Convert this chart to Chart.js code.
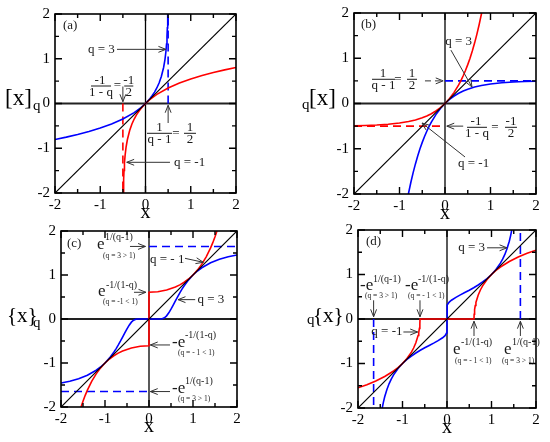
<!DOCTYPE html>
<html><head><meta charset="utf-8">
<script src="https://cdn.jsdelivr.net/npm/chart.js@4.4.1/dist/chart.umd.min.js"></script>
<style>
html,body{margin:0;padding:0;background:#fff;}
#wrap{position:relative;width:550px;height:442px;overflow:hidden;background:#fff;}
canvas{position:absolute;left:0;top:0;}
</style></head><body>
<div id="wrap">
<canvas id="pa" width="550" height="442" style="width:550px;height:442px"></canvas>
<canvas id="pb" width="550" height="442" style="width:550px;height:442px"></canvas>
<canvas id="pc" width="550" height="442" style="width:550px;height:442px"></canvas>
<canvas id="pd" width="550" height="442" style="width:550px;height:442px"></canvas>
</div>
<script>
// ---------- data ----------
const TICK_VALUES = [-2, -1, 0, 1, 2];
const MINOR_VALUES = [-1.5, -0.5, 0.5, 1.5];
const DIAG_X = [-2, 2];
const DIAG_Y = [-2, 2];

// (a) [x]_q
const A_BLUE_X = [-2,-1.75,-1.5,-1.25,-1,-0.75,-0.5,-0.25,-0.1,0,0.1,0.15,0.2,0.25,0.3,0.35,0.4,0.43,0.45,0.465,0.475,0.483,0.4908];
const A_BLUE_Y = [-0.805,-0.752,-0.693,-0.626,-0.549,-0.458,-0.347,-0.203,-0.091,0,0.112,0.178,0.255,0.347,0.458,0.602,0.805,0.983,1.151,1.330,1.498,1.691,2.0];
const A_RED_X = [-0.4908,-0.483,-0.475,-0.465,-0.45,-0.43,-0.4,-0.35,-0.3,-0.25,-0.2,-0.15,-0.1,0,0.1,0.25,0.5,0.75,1,1.25,1.5,1.75,2];
const A_RED_Y = [-2,-1.691,-1.498,-1.330,-1.151,-0.983,-0.805,-0.602,-0.458,-0.347,-0.255,-0.178,-0.112,0,0.091,0.203,0.347,0.458,0.549,0.626,0.693,0.752,0.805];
const A_BLUE_DASH_X = [0.5, 0.5], A_BLUE_DASH_Y = [0, 2];
const A_RED_DASH_X = [-0.5, -0.5], A_RED_DASH_Y = [0, -2];

// (b) q[x]
const B_BLUE_X = [-0.805,-0.75,-0.7,-0.65,-0.6,-0.55,-0.5,-0.45,-0.4,-0.35,-0.3,-0.2,-0.1,0,0.1,0.2,0.3,0.4,0.5,0.65,0.8,1,1.25,1.5,1.75,2];
const B_BLUE_Y = [-2,-1.741,-1.528,-1.335,-1.160,-1.002,-0.859,-0.730,-0.613,-0.507,-0.411,-0.246,-0.111,0,0.091,0.165,0.226,0.275,0.316,0.364,0.399,0.432,0.459,0.475,0.485,0.491];
const B_RED_X = [-2,-1.75,-1.5,-1.25,-1,-0.8,-0.65,-0.5,-0.4,-0.3,-0.2,-0.1,0,0.1,0.2,0.3,0.35,0.4,0.45,0.5,0.55,0.6,0.65,0.7,0.75,0.805];
const B_RED_Y = [-0.491,-0.485,-0.475,-0.459,-0.432,-0.399,-0.364,-0.316,-0.275,-0.226,-0.165,-0.091,0,0.111,0.246,0.411,0.507,0.613,0.730,0.859,1.002,1.160,1.335,1.528,1.741,2];
const B_BLUE_DASH_X = [0, 2], B_BLUE_DASH_Y = [0.5, 0.5];
const B_RED_DASH_X = [-2, 0], B_RED_DASH_Y = [-0.5, -0.5];

// (c) {x}_q
const C_BLUE_X = [-2,-1.8,-1.6,-1.4,-1.2,-1.1,-1,-0.9,-0.8,-0.75,-0.7,-0.65,-0.6,-0.55,-0.5,-0.45,-0.4,-0.35,-0.3,-0.25,-0.2,0,0.2,0.25,0.3,0.35,0.4,0.45,0.5,0.55,0.6,0.65,0.7,0.75,0.8,0.9,1,1.1,1.2,1.4,1.6,1.8,2];
const C_BLUE_Y = [-1.455,-1.413,-1.356,-1.278,-1.165,-1.091,-1,-0.889,-0.755,-0.678,-0.594,-0.505,-0.411,-0.316,-0.223,-0.140,-0.072,-0.028,-0.006,-0.001,0,0,0,0.001,0.006,0.028,0.072,0.140,0.223,0.316,0.411,0.505,0.594,0.678,0.755,0.889,1,1.091,1.165,1.278,1.356,1.413,1.455];
const C_RED_X = [-1.545,-1.5,-1.45,-1.4,-1.3,-1.2,-1.1,-1,-0.9,-0.8,-0.7,-0.6,-0.4,-0.2,0,0,0.2,0.4,0.6,0.7,0.8,0.9,1,1.1,1.2,1.3,1.4,1.45,1.5,1.545];
const C_RED_Y = [-2,-1.868,-1.735,-1.616,-1.412,-1.246,-1.111,-1,-0.909,-0.835,-0.775,-0.726,-0.657,-0.619,-0.607,0.607,0.619,0.657,0.726,0.775,0.835,0.909,1,1.111,1.246,1.412,1.616,1.735,1.868,2];
const C_BLUE_DASH_TOP_X = [0, 2], C_BLUE_DASH_TOP_Y = [1.649, 1.649];
const C_BLUE_DASH_BOT_X = [-2, 0], C_BLUE_DASH_BOT_Y = [-1.649, -1.649];

// (d) q{x}
const D_BLUE_X = [-1.455,-1.43,-1.4,-1.35,-1.3,-1.25,-1.2,-1.1,-1,-0.9,-0.8,-0.7,-0.6,-0.5,-0.4,-0.3,-0.2,-0.1,-0.05,-0.03,-0.01,-0.001,-0.0001,0,0.0001,0.001,0.01,0.03,0.05,0.1,0.2,0.3,0.4,0.5,0.6,0.7,0.8,0.9,1,1.1,1.2,1.25,1.3,1.35,1.4,1.43,1.455];
const D_BLUE_Y = [-2,-1.874,-1.749,-1.582,-1.451,-1.344,-1.255,-1.112,-1,-0.909,-0.832,-0.764,-0.703,-0.647,-0.594,-0.542,-0.487,-0.422,-0.378,-0.353,-0.313,-0.26,-0.227,0,0.227,0.26,0.313,0.353,0.378,0.422,0.487,0.542,0.594,0.647,0.703,0.764,0.832,0.909,1,1.112,1.255,1.344,1.451,1.582,1.749,1.874,2];
const D_RED_X = [-2,-1.8,-1.6,-1.4,-1.2,-1.1,-1,-0.9,-0.8,-0.75,-0.7,-0.65,-0.635,-0.62,-0.61,-0.6065,0.6065,0.61,0.62,0.635,0.65,0.7,0.75,0.8,0.9,1,1.1,1.2,1.4,1.6,1.8,2];
const D_RED_Y = [-1.545,-1.475,-1.393,-1.293,-1.168,-1.091,-1,-0.888,-0.744,-0.652,-0.535,-0.372,-0.303,-0.21,-0.107,0,0,0.107,0.21,0.303,0.372,0.535,0.652,0.744,0.888,1,1.091,1.168,1.293,1.393,1.475,1.545];
const D_BLUE_DASH_R_X = [1.649, 1.649], D_BLUE_DASH_R_Y = [0, 2];
const D_BLUE_DASH_L_X = [-1.649, -1.649], D_BLUE_DASH_L_Y = [0, -2];

// ---------- styling / layout ----------
const FONT = "'Liberation Serif','Times New Roman',serif";
const RED = '#ff0000', BLUE = '#0000ff', BLACK = '#000000';
const TXT = '#1a1a1a', ARR = '#333333';

const PANELS = {
  pa: { box:{L:55,R:236,T:14,B:193},
    ytitle:[{s:'[x]',dx:-50,dy:1,size:23},{s:'q',dx:-22,dy:6,size:15}],
    ann:[
      {t:'text',x:-1.823,y:1.665,s:'(a)'},
      {t:'text',x:-0.68,y:1.21,s:'q = 3',align:'right',base:'middle'},
      {t:'arrow',x1:-0.63,y1:1.21,x2:0.45,y2:1.21},
      {t:'text',x:-1.006,y:0.436,s:'-1',align:'center'},
      {t:'line',x1:-1.204,y1:0.391,x2:-0.762,y2:0.391},
      {t:'text',x:-0.983,y:0.168,s:'1 - q',align:'center'},
      {t:'text',x:-0.62,y:0.391,s:'=',align:'center',base:'middle'},
      {t:'text',x:-0.37,y:0.436,s:'-1',align:'center'},
      {t:'line',x1:-0.47,y1:0.391,x2:-0.27,y2:0.391},
      {t:'text',x:-0.37,y:0.168,s:'2',align:'center'},
      {t:'arrow',x1:-0.5,y1:0.38,x2:-0.5,y2:0.04},
      {t:'text',x:0.309,y:-0.614,s:'1',align:'center'},
      {t:'line',x1:0.033,y1:-0.666,x2:0.586,y2:-0.666},
      {t:'text',x:0.309,y:-0.883,s:'q - 1',align:'center'},
      {t:'text',x:0.674,y:-0.666,s:'=',align:'center',base:'middle'},
      {t:'text',x:0.983,y:-0.614,s:'1',align:'center'},
      {t:'line',x1:0.851,y1:-0.666,x2:1.116,y2:-0.666},
      {t:'text',x:0.983,y:-0.883,s:'2',align:'center'},
      {t:'arrow',x1:0.5,y1:-0.436,x2:0.5,y2:-0.04},
      {t:'text',x:0.63,y:-1.314,s:'q = -1',align:'left',base:'middle'},
      {t:'arrow',x1:0.541,y1:-1.314,x2:-0.415,y2:-1.314}
    ]},
  pb: { box:{L:354,R:536,T:13,B:194},
    ytitle:[{s:'q',dx:-52,dy:5,size:15},{s:'[x]',dx:-45,dy:1,size:23}],
    ann:[
      {t:'text',x:-1.846,y:1.669,s:'(b)'},
      {t:'text',x:0.30,y:1.30,s:'q = 3',align:'center'},
      {t:'arrow',x1:0.13,y1:1.18,x2:0.593,y2:0.365},
      {t:'text',x:-1.363,y:0.575,s:'1',align:'center'},
      {t:'line',x1:-1.604,y1:0.535,x2:-1.099,y2:0.535},
      {t:'text',x:-1.351,y:0.320,s:'q - 1',align:'center'},
      {t:'text',x:-1.033,y:0.535,s:'=',align:'center',base:'middle'},
      {t:'text',x:-0.725,y:0.575,s:'1',align:'center'},
      {t:'line',x1:-0.835,y1:0.535,x2:-0.615,y2:0.535},
      {t:'text',x:-0.725,y:0.320,s:'2',align:'center'},
      {t:'arrow',x1:-0.44,y1:0.5,x2:-0.04,y2:0.5,dash:[6,4]},
      {t:'text',x:0.681,y:-0.475,s:'-1',align:'center'},
      {t:'line',x1:0.484,y1:-0.526,x2:0.923,y2:-0.526},
      {t:'text',x:0.703,y:-0.740,s:'1 - q',align:'center'},
      {t:'text',x:1.099,y:-0.526,s:'=',align:'center',base:'middle'},
      {t:'text',x:1.451,y:-0.475,s:'-1',align:'center'},
      {t:'line',x1:1.319,y1:-0.526,x2:1.582,y2:-0.526},
      {t:'text',x:1.451,y:-0.740,s:'2',align:'center'},
      {t:'arrow',x1:0.40,y1:-0.5,x2:0.04,y2:-0.5},
      {t:'text',x:0.286,y:-1.403,s:'q = -1',align:'left'},
      {t:'arrow',x1:0.44,y1:-1.182,x2:-0.505,y2:-0.431}
    ]},
  pc: { box:{L:61,R:237,T:231,B:407},
    ytitle:[{s:'{x}',dx:-54,dy:3,size:21},{s:'q',dx:-28,dy:8,size:15}],
    ann:[
      {t:'text',x:-1.864,y:1.636,s:'(c)'},
      {t:'text',x:-1.182,y:1.591,s:'e',size:17},
      {t:'text',x:-1.0,y:1.795,s:'1/(q-1)',size:10},
      {t:'text',x:-1.045,y:1.386,s:'(q = 3 > 1)',size:7.5},
      {t:'arrow',x1:-0.432,y1:1.649,x2:-0.08,y2:1.649},
      {t:'text',x:0.023,y:1.341,s:'q = - 1',align:'left',base:'middle'},
      {t:'arrow',x1:0.818,y1:1.379,x2:1.234,y2:1.289},
      {t:'text',x:-1.159,y:0.523,s:'e',size:17},
      {t:'text',x:-0.977,y:0.705,s:'-1/(1-q)',size:10},
      {t:'text',x:-1.045,y:0.341,s:'(q = -1 < 1)',size:7.5},
      {t:'arrow',x1:-0.341,y1:0.607,x2:-0.07,y2:0.607},
      {t:'text',x:1.10,y:0.44,s:'q = 3',align:'left',base:'middle'},
      {t:'arrow',x1:1.05,y1:0.44,x2:0.66,y2:0.44},
      {t:'text',x:0.523,y:-0.636,s:'-e',size:17},
      {t:'text',x:0.818,y:-0.432,s:'-1/(1-q)',size:10},
      {t:'text',x:0.659,y:-0.818,s:'(q = - 1 < 1)',size:7.5},
      {t:'arrow',x1:0.477,y1:-0.59,x2:0.03,y2:-0.59},
      {t:'text',x:0.523,y:-1.682,s:'-e',size:17},
      {t:'text',x:0.818,y:-1.477,s:'1/(q-1)',size:10},
      {t:'text',x:0.659,y:-1.864,s:'(q = 3 > 1)',size:7.5},
      {t:'arrow',x1:0.477,y1:-1.649,x2:0.03,y2:-1.649}
    ]},
  pd: { box:{L:358,R:536,T:230,B:408},
    ytitle:[{s:'q',dx:-51,dy:5,size:15},{s:'{x}',dx:-45,dy:3,size:21}],
    ann:[
      {t:'text',x:-1.820,y:1.663,s:'(d)'},
      {t:'text',x:-1.955,y:0.652,s:'-e',size:17},
      {t:'text',x:-1.663,y:0.831,s:'1/(q-1)',size:10},
      {t:'text',x:-1.843,y:0.472,s:'(q = 3 > 1)',size:7.5},
      {t:'arrow',x1:-1.649,y1:0.42,x2:-1.649,y2:0.05},
      {t:'text',x:-0.944,y:0.652,s:'-e',size:17},
      {t:'text',x:-0.652,y:0.831,s:'-1/(1-q)',size:10},
      {t:'text',x:-0.876,y:0.472,s:'(q = - 1 < 1)',size:7.5},
      {t:'arrow',x1:-0.607,y1:0.42,x2:-0.607,y2:0.05},
      {t:'text',x:-1.0,y:-0.292,s:'q = -1',align:'right',base:'middle'},
      {t:'arrow',x1:-0.98,y1:-0.292,x2:-0.66,y2:-0.292},
      {t:'text',x:0.854,y:1.60,s:'q = 3',align:'right',base:'middle'},
      {t:'arrow',x1:0.9,y1:1.60,x2:1.348,y2:1.60},
      {t:'text',x:0.135,y:-0.787,s:'e',size:17},
      {t:'text',x:0.315,y:-0.584,s:'-1/(1-q)',size:10},
      {t:'text',x:0.180,y:-0.989,s:'(q = - 1 < 1)',size:7.5},
      {t:'arrow',x1:0.607,y1:-0.382,x2:0.607,y2:-0.05},
      {t:'text',x:1.281,y:-0.787,s:'e',size:17},
      {t:'text',x:1.461,y:-0.584,s:'1/(q-1)',size:10},
      {t:'text',x:1.236,y:-0.989,s:'(q = 3 > 1)',size:7.5},
      {t:'arrow',x1:1.649,y1:-0.382,x2:1.649,y2:-0.05}
    ]}
};

function drawArrow(ctx, x1, y1, x2, y2, dash) {
  ctx.save();
  ctx.strokeStyle = ARR; ctx.lineWidth = 1;
  ctx.setLineDash(dash || []);
  ctx.beginPath(); ctx.moveTo(x1, y1); ctx.lineTo(x2, y2); ctx.stroke();
  ctx.setLineDash([]);
  const a = Math.atan2(y2 - y1, x2 - x1), h = 8, w = 0.38;
  ctx.beginPath();
  ctx.moveTo(x2 - h * Math.cos(a - w), y2 - h * Math.sin(a - w));
  ctx.lineTo(x2, y2);
  ctx.lineTo(x2 - h * Math.cos(a + w), y2 - h * Math.sin(a + w));
  ctx.stroke();
  ctx.restore();
}

const panelPlugin = {
  id: 'panelDeco',
  beforeDatasetsDraw(chart) {
    const {ctx, chartArea: ca, scales: {x, y}} = chart;
    ctx.save();
    ctx.strokeStyle = '#222'; ctx.lineWidth = 2;
    const y0 = y.getPixelForValue(0);
    ctx.beginPath(); ctx.moveTo(ca.left, y0); ctx.lineTo(ca.right, y0); ctx.stroke();
    ctx.strokeStyle = BLACK; ctx.lineWidth = 1.3;
    const x0 = x.getPixelForValue(0);
    ctx.beginPath(); ctx.moveTo(x0, ca.top); ctx.lineTo(x0, ca.bottom); ctx.stroke();
    ctx.restore();
  },
  afterDatasetsDraw(chart) {
    const P = PANELS[chart.canvas.id];
    const {ctx, chartArea: ca, scales: {x, y}} = chart;
    ctx.save();
    ctx.strokeStyle = BLACK; ctx.lineWidth = 1.6;
    ctx.strokeRect(ca.left, ca.top, ca.right - ca.left, ca.bottom - ca.top);
    ctx.lineWidth = 1.4;
    const tick = (v, len) => {
      const px = x.getPixelForValue(v), py = y.getPixelForValue(v);
      ctx.beginPath();
      ctx.moveTo(px, ca.bottom); ctx.lineTo(px, ca.bottom - len);
      ctx.moveTo(px, ca.top); ctx.lineTo(px, ca.top + len);
      ctx.moveTo(ca.left, py); ctx.lineTo(ca.left + len, py);
      ctx.moveTo(ca.right, py); ctx.lineTo(ca.right - len, py);
      ctx.stroke();
    };
    TICK_VALUES.forEach(v => tick(v, 7));
    MINOR_VALUES.forEach(v => tick(v, 4));
    P.ann.forEach(a => {
      if (a.t === 'text') {
        ctx.fillStyle = TXT;
        ctx.font = (a.size || 13) + 'px ' + FONT;
        ctx.textAlign = a.align || 'left';
        ctx.textBaseline = a.base || 'alphabetic';
        ctx.fillText(a.s, x.getPixelForValue(a.x), y.getPixelForValue(a.y));
      } else if (a.t === 'line') {
        ctx.strokeStyle = TXT; ctx.lineWidth = 1;
        ctx.beginPath();
        ctx.moveTo(x.getPixelForValue(a.x1), y.getPixelForValue(a.y1));
        ctx.lineTo(x.getPixelForValue(a.x2), y.getPixelForValue(a.y2));
        ctx.stroke();
      } else if (a.t === 'arrow') {
        drawArrow(ctx, x.getPixelForValue(a.x1), y.getPixelForValue(a.y1),
                  x.getPixelForValue(a.x2), y.getPixelForValue(a.y2), a.dash);
      }
    });
    ctx.fillStyle = BLACK; ctx.textAlign = 'left'; ctx.textBaseline = 'alphabetic';
    const midY = (ca.top + ca.bottom) / 2;
    P.ytitle.forEach(t => {
      ctx.font = t.size + 'px ' + FONT;
      ctx.fillText(t.s, ca.left + t.dx, midY + t.dy);
    });
    ctx.font = '20px ' + FONT; ctx.textAlign = 'center';
    ctx.fillText('x', (ca.left + ca.right) / 2, ca.bottom + 25);
    ctx.restore();
  }
};

function pts(xs, ys) { return xs.map((v, i) => ({x: v, y: ys[i]})); }
function series(xs, ys, color, width, dash) {
  return { data: pts(xs, ys), showLine: true, borderColor: color, backgroundColor: color,
           borderWidth: width, borderDash: dash || [], pointRadius: 0, tension: 0, fill: false };
}

function makePanel(id, datasets) {
  const b = PANELS[id].box, YW = 30, XH = 24;
  const axisFont = {family: FONT, size: 15};
  return new Chart(document.getElementById(id), {
    type: 'scatter',
    data: { datasets },
    options: {
      responsive: false, animation: false, devicePixelRatio: 1,
      events: [],
      layout: { padding: { left: b.L - YW, right: 550 - b.R, top: b.T, bottom: 442 - b.B - XH } },
      plugins: { legend: {display: false}, tooltip: {enabled: false} },
      scales: {
        x: { type: 'linear', min: -2, max: 2,
             ticks: { stepSize: 1, font: axisFont, color: BLACK, padding: 3, maxRotation: 0, autoSkip: false, callback: v => String(v) },
             grid: { display: false, drawTicks: false }, border: { display: false },
             afterFit: s => { s.height = XH; s.paddingLeft = 0; s.paddingRight = 0; } },
        y: { type: 'linear', min: -2, max: 2,
             ticks: { stepSize: 1, font: axisFont, color: BLACK, padding: 5, autoSkip: false, callback: v => String(v) },
             grid: { display: false, drawTicks: false }, border: { display: false },
             afterFit: s => { s.width = YW; s.paddingTop = 0; s.paddingBottom = 0; } }
      }
    },
    plugins: [panelPlugin]
  });
}

const DASH = [8, 5];
makePanel('pa', [
  series(DIAG_X, DIAG_Y, BLACK, 1.2),
  series(A_RED_X, A_RED_Y, RED, 1.6),
  series(A_BLUE_X, A_BLUE_Y, BLUE, 1.6),
  series(A_BLUE_DASH_X, A_BLUE_DASH_Y, BLUE, 1.6, DASH),
  series(A_RED_DASH_X, A_RED_DASH_Y, RED, 1.6, DASH)
]);
makePanel('pb', [
  series(DIAG_X, DIAG_Y, BLACK, 1.2),
  series(B_RED_X, B_RED_Y, RED, 1.6),
  series(B_BLUE_X, B_BLUE_Y, BLUE, 1.6),
  series(B_BLUE_DASH_X, B_BLUE_DASH_Y, BLUE, 1.6, DASH),
  series(B_RED_DASH_X, B_RED_DASH_Y, RED, 1.6, DASH)
]);
makePanel('pc', [
  series(DIAG_X, DIAG_Y, BLACK, 1.2),
  series(C_RED_X, C_RED_Y, RED, 1.6),
  series(C_BLUE_X, C_BLUE_Y, BLUE, 1.6),
  series(C_BLUE_DASH_TOP_X, C_BLUE_DASH_TOP_Y, BLUE, 1.6, DASH),
  series(C_BLUE_DASH_BOT_X, C_BLUE_DASH_BOT_Y, BLUE, 1.6, DASH)
]);
makePanel('pd', [
  series(DIAG_X, DIAG_Y, BLACK, 1.2),
  series(D_RED_X, D_RED_Y, RED, 1.6),
  series(D_BLUE_X, D_BLUE_Y, BLUE, 1.6),
  series(D_BLUE_DASH_R_X, D_BLUE_DASH_R_Y, BLUE, 1.6, DASH),
  series(D_BLUE_DASH_L_X, D_BLUE_DASH_L_Y, BLUE, 1.6, DASH)
]);
</script>
</body></html>
